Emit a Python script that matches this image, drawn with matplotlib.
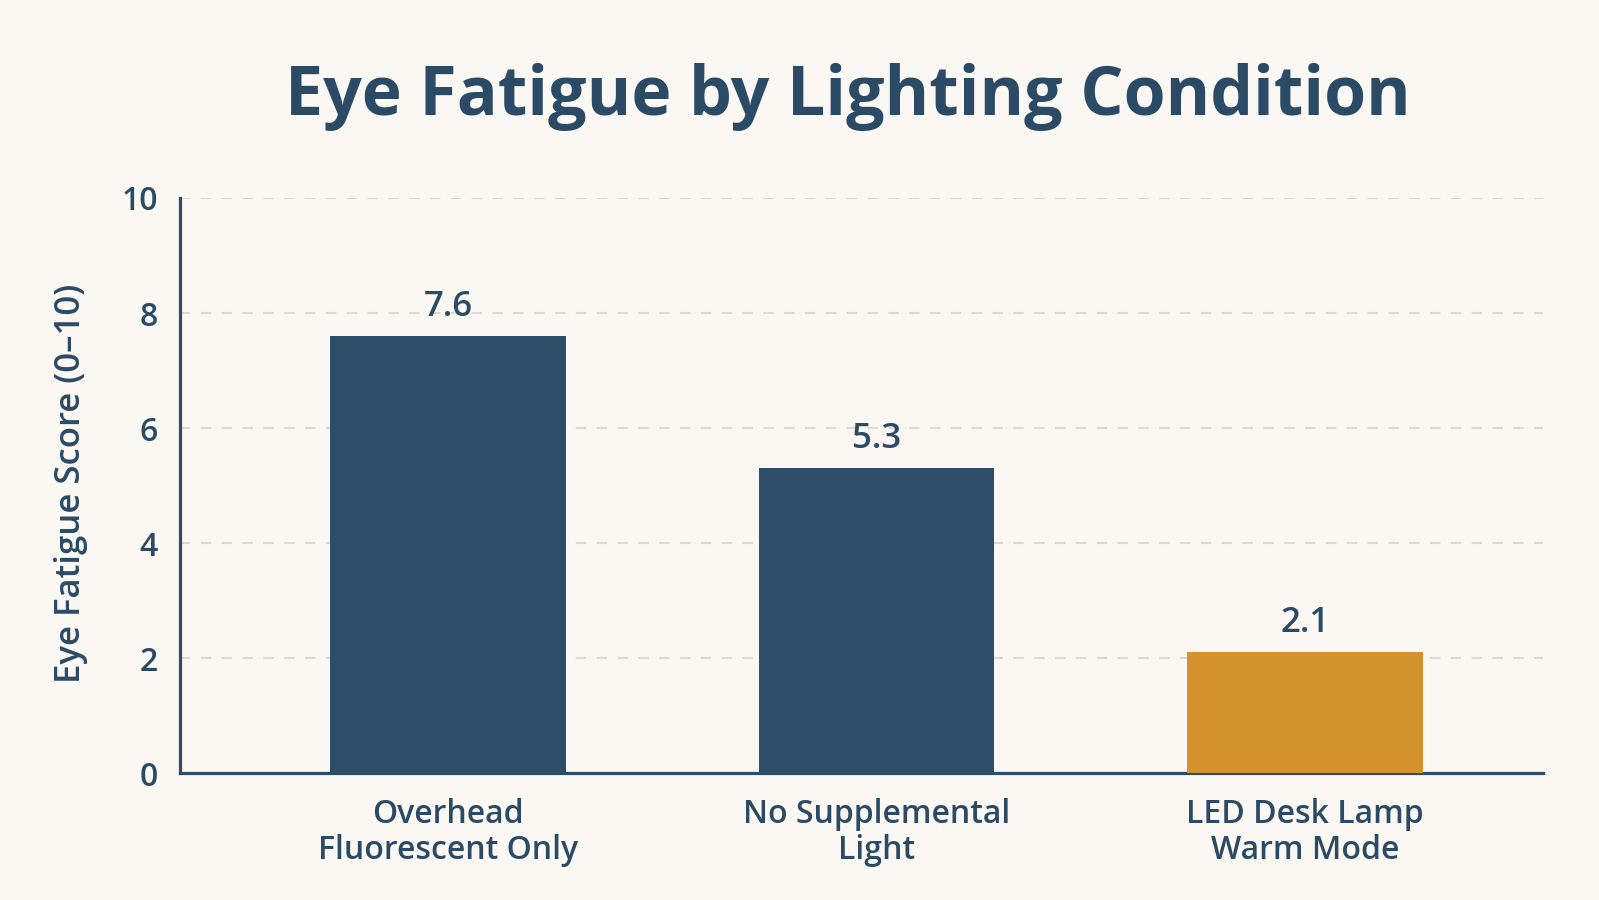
import matplotlib
matplotlib.use('Agg')
import matplotlib.pyplot as plt

categories = ['Overhead\nFluorescent Only', 'No Supplemental\nLight', 'LED Desk Lamp\nWarm Mode']
scores = [7.6, 5.3, 2.1]
value_labels = ['7.6', '5.3', '2.1']
yticks = [0, 2, 4, 6, 8, 10]

navy = '#2E4D68'
text_col = '#2A4A66'
orange = '#D4922E'
bg = '#FBF8F3'
bar_colors = [navy, navy, orange]

plt.rcParams['font.family'] = ['Open Sans', 'DejaVu Sans']

fig = plt.figure(figsize=(15.99, 9), dpi=100, facecolor=bg)
ax = fig.add_axes([0.1126, 0.1411, 0.8524, 0.6389])
ax.set_facecolor(bg)

x = list(range(len(categories)))
ax.bar(x, scores, width=0.55, color=bar_colors, zorder=3)

for xi, v, lab in zip(x, scores, value_labels):
    ax.annotate(lab, (xi, v), xytext=(0, 9), textcoords='offset points',
                ha='center', va='bottom', fontsize=25, fontweight='semibold', color=text_col)

ax.set_xlim(-0.625, 2.555)
ax.set_ylim(0, 10)
ax.set_yticks(yticks)
ax.set_xticks(x)
ax.set_xticklabels(categories, fontsize=23, fontweight='semibold', color=text_col, linespacing=1.1)
ax.tick_params(axis='y', labelsize=23, labelcolor=text_col, length=0, pad=16)
ax.tick_params(axis='x', length=0, pad=18)
for t in ax.get_yticklabels():
    t.set_fontweight('semibold')

ax.grid(axis='y', color='#DCD8D2', linestyle=(0, (5, 5)), linewidth=1.5, zorder=0)
ax.spines['top'].set_visible(False)
ax.spines['right'].set_visible(False)
ax.spines['left'].set_color(navy)
ax.spines['bottom'].set_color(navy)
ax.spines['left'].set_linewidth(2.3)
ax.spines['bottom'].set_linewidth(2.3)

ax.set_ylabel('Eye Fatigue Score (0–10)', fontsize=25, fontweight='semibold', color=text_col, va='center')
ax.yaxis.set_label_coords(-0.0797, 0.503)

fig.text(0.53, 0.892, 'Eye Fatigue by Lighting Condition', ha='center', va='center',
         fontsize=49, fontweight='bold', color=text_col)

fig.savefig('out.png', dpi=100, facecolor=bg)
